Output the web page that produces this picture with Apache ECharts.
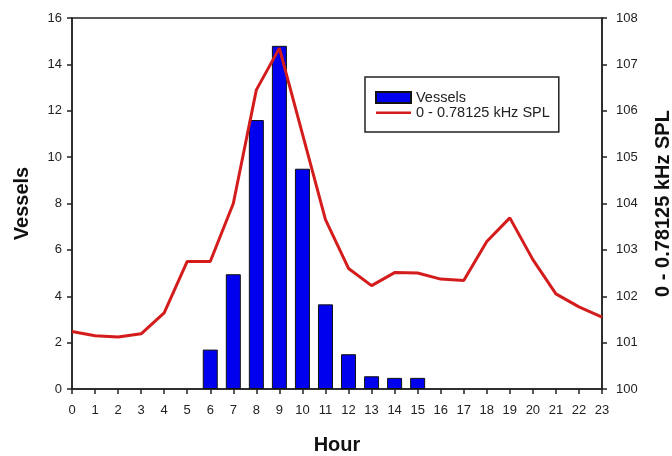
<!DOCTYPE html>
<html>
<head>
<meta charset="utf-8">
<script src="https://cdn.jsdelivr.net/npm/echarts@6/dist/echarts.min.js"></script>
<style>
  html, body { margin: 0; padding: 0; background: #fff; }
  #chart { width: 672px; height: 456px; }
</style>
</head>
<body>
<div id="chart"></div>
<script>
var hours = [0, 1, 2, 3, 4, 5, 6, 7, 8, 9, 10, 11, 12, 13, 14, 15, 16, 17, 18, 19, 20, 21, 22, 23];
var vesselHours = [6, 7, 8, 9, 10, 11, 12, 13, 14, 15];
var vessels = [1.7, 4.95, 11.6, 14.8, 9.5, 3.65, 1.5, 0.55, 0.48, 0.48];
var spl = [101.24, 101.15, 101.12, 101.19, 101.64, 102.75, 102.75, 104.0, 106.45, 107.35,
           105.5, 103.65, 102.6, 102.23, 102.51, 102.5, 102.37, 102.34, 103.18, 103.69,
           102.79, 102.05, 101.77, 101.55];

var barName = 'Vessels';
var lineName = '0 - 0.78125 kHz SPL';

var axisColor = '#222';
var font = 'Liberation Sans, Arial, sans-serif';

var barData = [];
for (var i = 0; i < vesselHours.length; i++) {
    barData.push([vesselHours[i], vessels[i]]);
}
var lineData = [];
for (var j = 0; j < hours.length; j++) {
    lineData.push([hours[j], spl[j]]);
}

// thin line icon for the legend (corner points keep the 35x11 box)
var lineIcon = 'path://M0,0 L0.01,0 L0,0.01 Z M0,4.5 L35,4.5 L35,7 L0,7 Z M35,11 L34.99,11 L35,10.99 Z';

var titleStyle = { fontSize: 20, fontWeight: 'bold', color: '#111', fontFamily: font };

var chart = echarts.init(document.getElementById('chart'), null, { renderer: 'canvas' });

var option = {
    backgroundColor: '#fff',
    animation: false,
    textStyle: { fontFamily: font },
    grid: {
        left: 72, right: 70, top: 18, bottom: 67,
        containLabel: false,
        outerBoundsMode: 'none',
        show: true, borderColor: axisColor, borderWidth: 1.5
    },
    legend: {
        left: 365, top: 77,
        orient: 'vertical',
        padding: [13, 9, 12, 10],
        borderColor: axisColor, borderWidth: 1.5,
        itemWidth: 35, itemHeight: 11, itemGap: 0,
        textStyle: { fontSize: 14.5, lineHeight: 15, color: '#222', fontFamily: font },
        data: [{ name: barName, icon: 'rect' }, { name: lineName, icon: lineIcon }]
    },
    xAxis: {
        type: 'value',
        min: 0, max: 23, interval: 1,
        name: 'Hour', nameLocation: 'middle', nameGap: 46,
        nameTextStyle: titleStyle,
        axisLine: { lineStyle: { color: axisColor, width: 1.5 } },
        axisTick: { length: 5, lineStyle: { color: axisColor, width: 1.5 } },
        axisLabel: { fontSize: 13, color: '#222', margin: 15 },
        splitLine: { show: false }
    },
    yAxis: [{
        type: 'value',
        min: 0, max: 16, interval: 2,
        name: 'Vessels', nameLocation: 'middle', nameGap: 40, nameRotate: 90,
        nameTextStyle: titleStyle,
        axisLine: { show: true, lineStyle: { color: axisColor, width: 1.5 } },
        axisTick: { show: true, length: 5, lineStyle: { color: axisColor, width: 1.5 } },
        axisLabel: { fontSize: 13, color: '#222', margin: 10 },
        splitLine: { show: false }
    }, {
        type: 'value',
        position: 'right',
        min: 100, max: 108, interval: 1,
        name: lineName, nameLocation: 'middle', nameGap: 51, nameRotate: 90,
        nameTextStyle: titleStyle,
        axisLine: { show: true, lineStyle: { color: axisColor, width: 1.5 } },
        axisTick: { show: true, length: 5, lineStyle: { color: axisColor, width: 1.5 } },
        axisLabel: { fontSize: 13, color: '#222', margin: 14 },
        splitLine: { show: false }
    }],
    series: [{
        name: barName,
        type: 'bar',
        yAxisIndex: 0,
        barWidth: 15,
        itemStyle: { color: '#0000ee', borderColor: '#111', borderWidth: 1 },
        data: barData
    }, {
        name: lineName,
        type: 'line',
        yAxisIndex: 1,
        symbol: 'none',
        lineStyle: { color: '#d41c1c', width: 3 },
        itemStyle: { color: '#d41c1c' },
        data: lineData
    }]
};

chart.setOption(option);
</script>
</body>
</html>
